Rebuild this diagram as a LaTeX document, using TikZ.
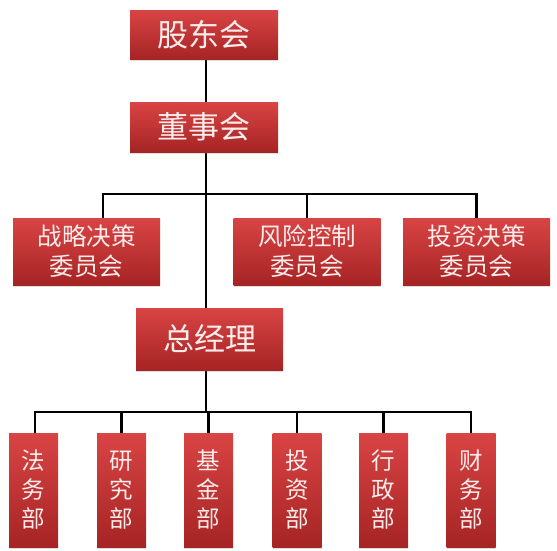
\documentclass[tikz,border=0pt]{standalone}
\usepackage{fontspec}
\newfontfamily\cjk{Noto Sans CJK SC}
\usepackage{tikz}
\usetikzlibrary{shadows, positioning, backgrounds}
\definecolor{boxtop}{RGB}{217,68,68}
\definecolor{boxbot}{RGB}{166,36,36}
\definecolor{boxtext}{RGB}{252,236,236}

\begin{document}
\begin{tikzpicture}[x=1pt, y=-1pt,
    box/.style={rectangle, top color=boxtop, bottom color=boxbot, draw=none, text=boxtext,
        align=center, inner sep=0pt, drop shadow={opacity=0.25, shadow xshift=0pt, shadow yshift=-2pt}},
    bigbox/.style={box, minimum width=148pt, font=\cjk\fontsize{31}{36}\selectfont},
    midbox/.style={box, minimum width=147pt, minimum height=67pt, font=\cjk\fontsize{24.5}{30}\selectfont},
    dept/.style={box, minimum width=49pt, minimum height=114pt, font=\cjk\fontsize{23.5}{29}\selectfont},
    line/.style={line width=2.8pt, black}
]
\useasboundingbox (0,0) rectangle (557,550);

\node[bigbox, minimum height=49pt] (gdh) at (204,34.5) {股东会};
\node[bigbox, minimum height=50pt] (dsh) at (204,127) {董事会};

\node[midbox] (zlc) at (86.5,251.5) {战略决策\\委员会};
\node[midbox] (fxk) at (307,251.5) {风险控制\\委员会};
\node[midbox] (tzj) at (476.5,251.5) {投资决策\\委员会};

\node[bigbox, minimum width=147pt, minimum height=62pt] (zjl) at (209.5,339) {总经理};

\node[dept] (fwb) at (33.5,490) {法\\务\\部};
\node[dept] (yjb) at (121.5,490) {研\\究\\部};
\node[dept] (jjb) at (208.5,490) {基\\金\\部};
\node[dept] (tzb) at (297,490) {投\\资\\部};
\node[dept] (xzb) at (383.5,490) {行\\政\\部};
\node[dept] (cwb) at (471,490) {财\\务\\部};

\coordinate (bus1) at (206,194);
\coordinate (bus2) at (206,412);

\begin{pgfonlayer}{background}
\draw[line] (bus1 |- gdh.south) -- (bus1 |- zjl.north);
\draw[line] (bus1 |- zjl.south) -- (bus2);
\draw[line] ([xshift=16.5pt]zlc.north) |- (bus1) -| (tzj.north);
\draw[line] (fxk.north) -- (fxk.north |- bus1);
\draw[line] ([xshift=1.5pt]fwb.north) |- (bus2) -| (cwb.north);
\foreach \d in {yjb, jjb, tzb, xzb}
  \draw[line] (\d.north) -- (\d.north |- bus2);
\end{pgfonlayer}
\end{tikzpicture}
\end{document}
